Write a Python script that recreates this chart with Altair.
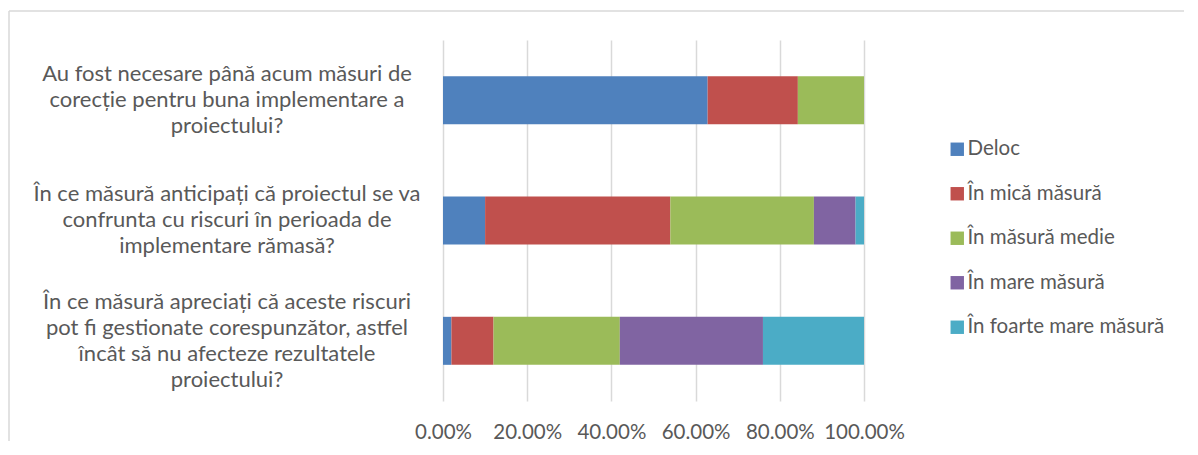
import altair as alt
import pandas as pd

questions = [
    "Au fost necesare până acum măsuri de|corecție pentru buna implementare a|proiectului?",
    "În ce măsură anticipați că proiectul se va|confrunta cu riscuri în perioada de|implementare rămasă?",
    "În ce măsură apreciați că aceste riscuri|pot fi gestionate corespunzător, astfel|încât să nu afecteze rezultatele|proiectului?",
]
series = ["Deloc", "În mică măsură", "În măsură medie", "În mare măsură", "În foarte mare măsură"]
colors = ["#4F81BD", "#C0504D", "#9BBB59", "#8064A2", "#4BACC6"]
x_ticks = [0, 0.2, 0.4, 0.6, 0.8, 1.0]

deloc = [0.6286, 0.100, 0.020]
mica = [0.2143, 0.440, 0.100]
medie = [0.1571, 0.341, 0.300]
mare = [0.0, 0.099, 0.340]
foarte = [0.0, 0.020, 0.240]

rows = []
for si, (name, vals) in enumerate(zip(series, [deloc, mica, medie, mare, foarte])):
    for q, v in zip(questions, vals):
        rows.append({"q": q, "s": name, "v": v, "o": si})
df = pd.DataFrame(rows)

label_rows = []
for q in questions:
    parts = q.split("|")
    n = len(parts)
    for i, p in enumerate(parts):
        label_rows.append({"q": q, "line": p, "k": i - (n - 1) / 2})
ldf = pd.DataFrame(label_rows)

font = "Lato"
grey = "#595959"
yscale = alt.Scale(domain=questions, paddingInner=0.6, paddingOuter=0.3)

bars = alt.Chart(df).mark_bar(height=48).encode(
    y=alt.Y("q:N", sort=questions, title=None, scale=yscale,
            axis=alt.Axis(labels=False, ticks=False, domain=False, grid=False)),
    x=alt.X("v:Q", stack="zero", title=None,
            scale=alt.Scale(domain=[0, 1], nice=False),
            axis=alt.Axis(format=".2%", values=x_ticks,
                          ticks=False, domain=False, grid=True, gridColor="#D9D9D9",
                          gridWidth=1.5, labelFont=font, labelFontSize=20.5,
                          labelColor=grey, labelPadding=21, labelFlush=False)),
    color=alt.Color("s:N", sort=series, scale=alt.Scale(domain=series, range=colors),
                    legend=alt.Legend(title=None, orient="none", legendX=504, legendY=99,
                                      symbolType="square", symbolSize=180,
                                      symbolStrokeWidth=0, labelFont=font,
                                      labelFontSize=20.5, labelColor=grey,
                                      rowPadding=23.5, labelOffset=0, labelLimit=0)),
    order=alt.Order("o:Q"),
)

labels = alt.Chart(ldf).mark_text(
    align="center", baseline="middle", font=font, fontSize=22, color=grey
).encode(
    y=alt.Y("q:N", sort=questions, scale=yscale),
    yOffset=alt.YOffset("k:Q", scale=alt.Scale(domain=[-2, 2], range=[-28, 76])),
    x=alt.value(-216),
    text="line:N",
)

one = pd.DataFrame({"a": [0]})
frame_top = alt.Chart(one).mark_rule(color="#D9D9D9", strokeWidth=1.5).encode(
    x=alt.value(-434), x2=alt.value(900), y=alt.value(-29))
frame_left = alt.Chart(one).mark_rule(color="#D9D9D9", strokeWidth=1.5).encode(
    x=alt.value(-434), y=alt.value(-29), y2=alt.value(600))

chart = alt.layer(frame_top, frame_left, bars, labels).properties(
    width=421, height=361,
    autosize=alt.AutoSizeParams(type="none"),
    padding={"left": 435, "top": 32, "right": 320, "bottom": 40},
).configure_view(stroke=None)

chart.save("out.html", embed_options={"renderer": "svg", "actions": False})
